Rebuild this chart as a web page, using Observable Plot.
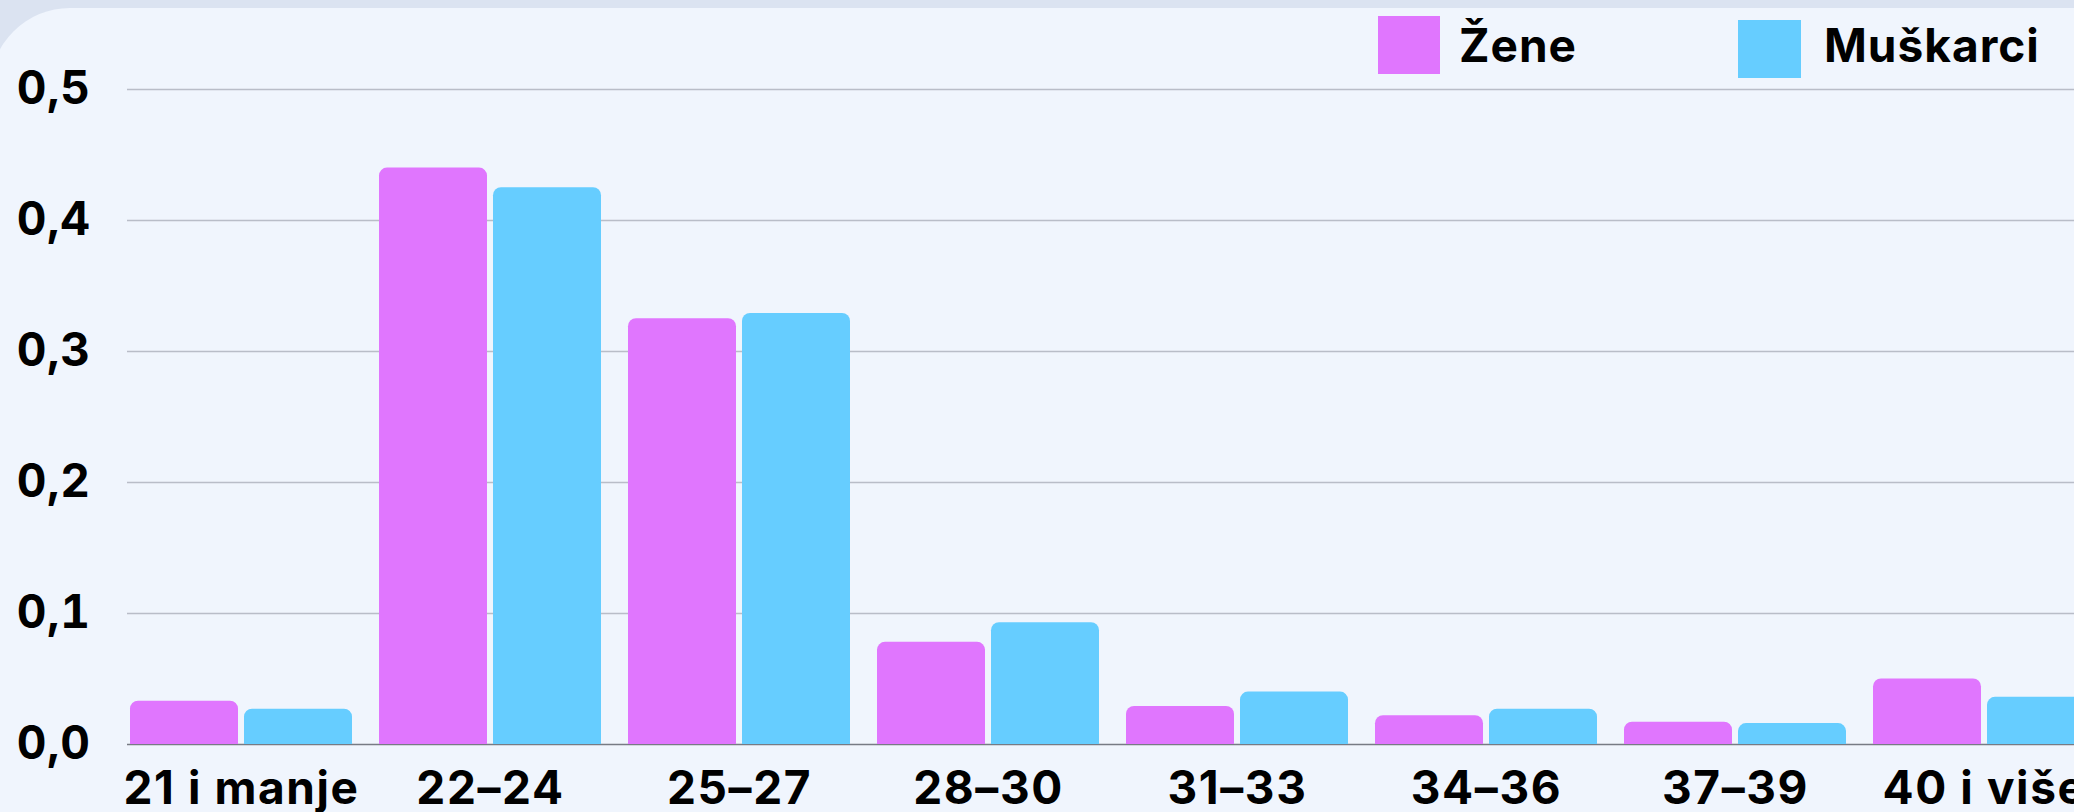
<!DOCTYPE html>
<html>
<head>
<meta charset="utf-8">
<script src="https://cdn.jsdelivr.net/npm/d3@7"></script>
<script src="https://cdn.jsdelivr.net/npm/@observablehq/plot@0.6"></script>
<style>
  html, body { margin: 0; padding: 0; width: 2074px; height: 812px; overflow: hidden; background: #dbe3f1; }
  #card { position: absolute; left: -10px; top: 8px; width: 2200px; height: 900px; background: #f0f5fd; border-top-left-radius: 80px; }
  .layer { position: absolute; left: 0; top: 8px; width: 2097px; height: 804px; }
  .layer svg { max-width: none !important; width: 2097px !important; height: 804px !important; }
  #chart svg text { letter-spacing: 1.6px; }
  #grid svg text { letter-spacing: 0.6px; }
  .lg { position: absolute; font-family: Inter, sans-serif; font-weight: 700; font-size: 46px; line-height: 1; color: #000; white-space: nowrap; letter-spacing: 1px; }
  .sw { position: absolute; }
</style>
</head>
<body>
<div id="card"></div>
<div id="grid" class="layer"></div>
<div id="chart" class="layer"></div>
<div id="legend"></div>
<script>
const ageGroups = ["21 i manje", "22–24", "25–27", "28–30", "31–33", "34–36", "37–39", "40 i više"];
const seriesNames = ["Žene", "Muškarci"];
const seriesColors = ["#e076fe", "#66cdff"];
const zene = [0.033, 0.440, 0.325, 0.078, 0.029, 0.022, 0.017, 0.050];
const muskarci = [0.027, 0.425, 0.329, 0.093, 0.040, 0.027, 0.016, 0.036];
const yTicks = [0, 0.1, 0.2, 0.3, 0.4, 0.5];
const yTickLabels = ["0,0", "0,1", "0,2", "0,3", "0,4", "0,5"];

const rows = [];
ageGroups.forEach((g, i) => {
  rows.push({group: g, sex: seriesNames[0], value: zene[i]});
  rows.push({group: g, sex: seriesNames[1], value: muskarci[i]});
});

const font = "Inter, sans-serif";
const common = {
  width: 2097,
  height: 804,
  marginLeft: 127,
  marginRight: 0,
  marginTop: 81,
  marginBottom: 68,
  style: {background: "transparent", fontFamily: font, fontWeight: 700, color: "#000", overflow: "visible", maxWidth: "none"},
  y: {domain: [0, 0.5], axis: null}
};

// background layer: gridlines, baseline, y axis (spanning the whole frame)
const gridPlot = Plot.plot({
  ...common,
  marks: [
    Plot.ruleY(yTicks.filter(d => d > 0), {stroke: "#b9bdc8", strokeWidth: 1.3}),
    Plot.ruleY([0], {stroke: "#777b84", strokeWidth: 1.5}),
    Plot.axisY(yTicks, {tickSize: 0, tickPadding: 37, fontSize: 46, fontWeight: 700, fill: "#000", label: null,
      tickFormat: d => yTickLabels[yTicks.indexOf(d)]})
  ]
});
document.getElementById("grid").appendChild(gridPlot);

// foreground layer: grouped bars
const chart = Plot.plot({
  ...common,
  fx: {domain: ageGroups, paddingInner: 0.1015, paddingOuter: 0, label: null},
  x: {domain: seriesNames, paddingInner: 0.052, paddingOuter: 0, axis: null},
  color: {domain: seriesNames, range: seriesColors},
  marks: [
    Plot.barY(rows, {fx: "group", x: "sex", y: "value", fill: "sex", ry1: 8}),
    Plot.axisFx({anchor: "bottom", tickSize: 0, tickPadding: 27, fontSize: 46, fontWeight: 700, fill: "#000", label: null})
  ]
});
document.getElementById("chart").appendChild(chart);

// legend
const legend = document.getElementById("legend");
const lgPos = [
  {sw: [1378, 16, 62, 58], tx: [1459, 22]},
  {sw: [1738, 20, 63, 58], tx: [1824, 22]}
];
seriesNames.forEach((name, i) => {
  const p = lgPos[i];
  const s = document.createElement("div");
  s.className = "sw";
  Object.assign(s.style, {left: p.sw[0] + "px", top: p.sw[1] + "px", width: p.sw[2] + "px", height: p.sw[3] + "px", background: seriesColors[i]});
  legend.appendChild(s);
  const t = document.createElement("div");
  t.className = "lg";
  t.textContent = name;
  Object.assign(t.style, {left: p.tx[0] + "px", top: p.tx[1] + "px"});
  legend.appendChild(t);
});
</script>
</body>
</html>
